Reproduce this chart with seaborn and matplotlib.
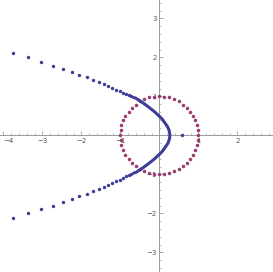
import matplotlib
matplotlib.use("Agg")
import matplotlib.pyplot as plt
import seaborn as sns
import numpy as np
import pandas as pd

# --- data ---
# sparse outer dots of the blue curve (upper arm, then lower arm)
upper_sparse_x = [-3.76, -3.36, -3.03, -2.73, -2.48, -2.25, -2.05, -1.85, -1.70, -1.55,
                  -1.43, -1.31, -1.21, -1.10, -1.02, -0.93, -0.85, -0.78, -0.72]
upper_sparse_y = [2.11, 2.00, 1.88, 1.79, 1.70, 1.62, 1.55, 1.49, 1.43, 1.37,
                  1.32, 1.26, 1.22, 1.17, 1.14, 1.09, 1.06, 1.03, 1.00]
lower_sparse_x = [-3.76, -3.36, -3.03, -2.73, -2.48, -2.25, -2.05, -1.85, -1.70, -1.55,
                  -1.43, -1.31, -1.21, -1.10, -1.02, -0.93, -0.85, -0.78, -0.72]
lower_sparse_y = [-2.12, -2.00, -1.89, -1.80, -1.71, -1.63, -1.56, -1.50, -1.44, -1.38,
                  -1.33, -1.28, -1.23, -1.18, -1.14, -1.09, -1.05, -1.02, -0.99]
# dense part of the blue curve near the vertex (drawn as a thick run of points)
dense_x = [-0.66, -0.60, -0.49, -0.375, -0.28, -0.13, 0.01, 0.07, 0.12, 0.17, 0.21, 0.235,
           0.255, 0.266, 0.27,
           0.266, 0.255, 0.235, 0.21, 0.17, 0.12, 0.07, 0.01, -0.13, -0.28, -0.375, -0.49,
           -0.60, -0.66]
dense_y = [0.97, 0.95, 0.88, 0.80, 0.73, 0.61, 0.48, 0.42, 0.35, 0.28, 0.22, 0.17,
           0.11, 0.05, 0.00,
           -0.05, -0.11, -0.17, -0.22, -0.28, -0.35, -0.42, -0.48, -0.61, -0.73, -0.80, -0.88,
           -0.95, -0.97]
# single blue point on the x axis
point_x = [0.57]
point_y = [0.0]
# purple circle dots
circle_x = [1.00, 0.99, 0.97, 0.92, 0.87, 0.79, 0.71, 0.61, 0.50, 0.38, 0.26, 0.13,
            0.00, -0.13, -0.26, -0.38, -0.50, -0.61, -0.71, -0.79, -0.87, -0.92, -0.97, -0.99,
            -1.00, -0.99, -0.97, -0.92, -0.87, -0.79, -0.71, -0.61, -0.50, -0.38, -0.26, -0.13,
            0.00, 0.13, 0.26, 0.38, 0.50, 0.61, 0.71, 0.79, 0.87, 0.92, 0.97, 0.99]
circle_y = [0.00, 0.13, 0.26, 0.38, 0.50, 0.61, 0.71, 0.79, 0.87, 0.92, 0.97, 0.99,
            1.00, 0.99, 0.97, 0.92, 0.87, 0.79, 0.71, 0.61, 0.50, 0.38, 0.26, 0.13,
            0.00, -0.13, -0.26, -0.38, -0.50, -0.61, -0.71, -0.79, -0.87, -0.92, -0.97, -0.99,
            -1.00, -0.99, -0.97, -0.92, -0.87, -0.79, -0.71, -0.61, -0.50, -0.38, -0.26, -0.13]
x_ticks = [-4, -3, -2, -1, 1, 2]
y_ticks = [-3, -2, -1, 1, 2, 3]

BLUE = "#3d3d99"
PURPLE = "#993d71"
AXIS = "#9a9a9a"

sns.set_theme(style="white")
plt.rcParams['font.family'] = ['DejaVu Sans']

fig = plt.figure(figsize=(2.73, 2.72), dpi=100)
ax = fig.add_axes([0, 0, 1, 1])

dense = pd.DataFrame({"x": dense_x, "y": dense_y})
sns.lineplot(data=dense, x="x", y="y", sort=False, estimator=None,
             color=BLUE, linewidth=2.2, ax=ax, zorder=3,
             solid_capstyle="round", solid_joinstyle="round")
sns.scatterplot(x=upper_sparse_x + lower_sparse_x + point_x,
                y=upper_sparse_y + lower_sparse_y + point_y,
                color=BLUE, s=6, linewidth=0, ax=ax, zorder=3)
sns.scatterplot(x=circle_x, y=circle_y, color=PURPLE, s=6.5, linewidth=0, ax=ax, zorder=2)

ax.set_xlim(-4.085, 2.915)
ax.set_ylim(-3.505, 3.47)
ax.set_xlabel("")
ax.set_ylabel("")

for s in ["top", "right"]:
    ax.spines[s].set_visible(False)
for s in ["left", "bottom"]:
    ax.spines[s].set_position(("data", 0))
    ax.spines[s].set_color(AXIS)
    ax.spines[s].set_linewidth(0.7)
    ax.spines[s].set_zorder(1)

ax.set_xticks(x_ticks)
ax.set_yticks(y_ticks)
ax.set_xticks(np.arange(-4.0, 2.95, 0.2), minor=True)
ax.set_yticks(np.arange(-3.4, 3.45, 0.2), minor=True)
ax.set_xticklabels([str(t).replace("-", "\u2212") for t in x_ticks])
ax.set_yticklabels([str(t).replace("-", "\u2212") for t in y_ticks])
ax.tick_params(axis="both", which="major", direction="in", length=3, width=0.6,
               color=AXIS, labelsize=5, labelcolor="#555555", pad=2,
               bottom=True, left=True)
ax.tick_params(axis="both", which="minor", direction="in", length=1.5, width=0.5,
               color=AXIS, bottom=True, left=True)
# keep the leftmost label inside the picture
xl = ax.get_xticklabels()
xl[0].set_horizontalalignment("left")
ax.grid(False)
ax.set_facecolor("white")

fig.savefig("out.png", dpi=100, facecolor="white")
